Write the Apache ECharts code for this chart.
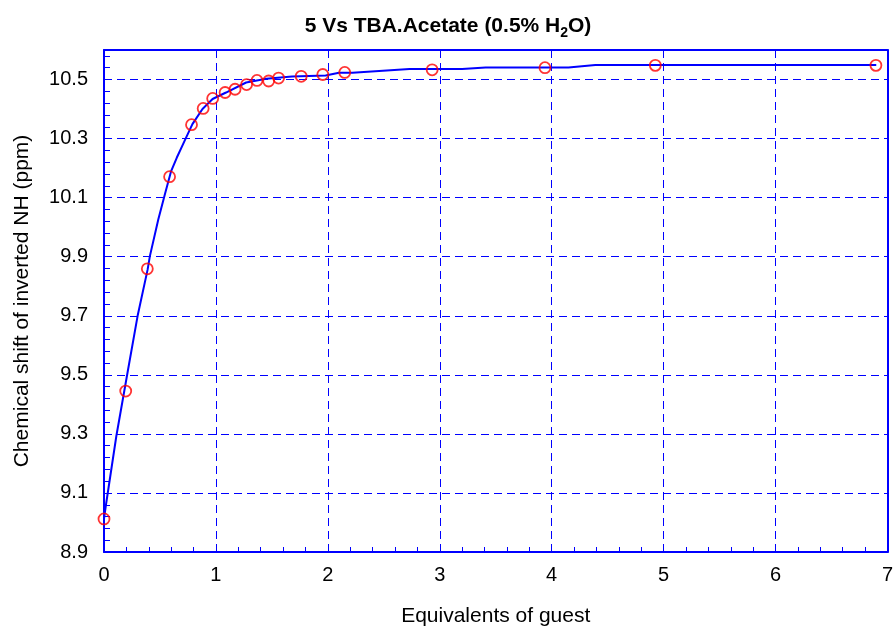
<!DOCTYPE html>
<html>
<head>
<meta charset="utf-8">
<script src="https://cdn.jsdelivr.net/npm/echarts@6/dist/echarts.min.js"></script>
<style>
  html, body { margin: 0; padding: 0; background: #fff; }
  #chart { width: 896px; height: 632px; }
</style>
</head>
<body>
<div id="chart"></div>
<script>
// Titration of 5 with TBA acetate: measured shifts and the fitted binding curve
const guestEquivalents = [0, 0.194, 0.387, 0.586, 0.782, 0.886, 0.971, 1.082, 1.171, 1.274,
  1.367, 1.471, 1.560, 1.762, 1.955, 2.151, 2.932, 3.940, 4.926, 6.897];
const observedShift = [9.012, 9.445, 9.859, 10.171, 10.347, 10.402, 10.436, 10.456, 10.467, 10.483,
  10.497, 10.495, 10.505, 10.511, 10.517, 10.524, 10.533, 10.540, 10.548, 10.548];

const fitEquivalents = [0, 0.02, 0.11, 0.21, 0.30, 0.39, 0.41, 0.485, 0.55, 0.60,
  0.65, 0.72, 0.79, 0.88, 0.97, 1.09, 1.27, 1.45, 1.68, 1.98,
  2.10, 2.22, 2.73, 3.20, 3.41, 4.15, 4.39, 6.90];
const fitShift = [9.012, 9.066, 9.292, 9.507, 9.699, 9.857, 9.902, 10.026, 10.120, 10.190,
  10.235, 10.292, 10.349, 10.400, 10.434, 10.456, 10.490, 10.503, 10.510, 10.514,
  10.523, 10.523, 10.536, 10.536, 10.541, 10.541, 10.549, 10.549];

const xTicks = { min: 0, max: 7, step: 1 };
const yTicks = { min: 8.9, max: 10.6, step: 0.2, minorStep: 0.04 };

const BLUE = '#0000ff';
const FONT = "'Liberation Sans', Arial, sans-serif";

const chart = echarts.init(document.getElementById('chart'), null, { renderer: 'canvas' });

const dashed = { show: true, lineStyle: { color: BLUE, width: 1, type: [8, 5] } };

chart.setOption({
  animation: false,
  backgroundColor: '#ffffff',
  title: {
    text: '5 Vs TBA.Acetate (0.5% H{sub|2}O)',
    left: 'center',
    top: 13,
    padding: 0,
    textStyle: {
      fontFamily: FONT, fontSize: 21, fontWeight: 'bold', color: '#000', lineHeight: 27,
      rich: {
        sub: { fontFamily: FONT, fontSize: 14, fontWeight: 'bold', color: '#000',
               lineHeight: 12, verticalAlign: 'bottom' }
      }
    }
  },
  grid: { left: 104, right: 7, top: 50, bottom: 79 },
  xAxis: [
    {
      type: 'value', position: 'bottom',
      min: xTicks.min, max: xTicks.max, interval: xTicks.step,
      name: 'Equivalents of guest', nameLocation: 'middle', nameGap: 54,
      nameTextStyle: { fontFamily: FONT, fontSize: 21, color: '#000' },
      axisLine: { show: true, onZero: false, lineStyle: { color: BLUE, width: 2 } },
      axisTick: { show: true, inside: true, length: 6, lineStyle: { color: BLUE, width: 1 } },
      minorTick: { show: true, splitNumber: 5, length: 5, lineStyle: { color: BLUE, width: 1 } },
      axisLabel: { fontFamily: FONT, fontSize: 20, color: '#000', margin: 13 },
      splitLine: dashed
    },
    {
      type: 'value', position: 'top',
      min: xTicks.min, max: xTicks.max, interval: xTicks.step,
      axisLine: { show: true, onZero: false, lineStyle: { color: BLUE, width: 2 } },
      axisTick: { show: true, inside: true, length: 6, lineStyle: { color: BLUE, width: 1 } },
      axisLabel: { show: false },
      splitLine: { show: false }
    }
  ],
  yAxis: [
    {
      type: 'value', position: 'left',
      min: yTicks.min, max: yTicks.max, interval: yTicks.step,
      name: 'Chemical shift of inverted NH (ppm)', nameLocation: 'middle', nameGap: 71,
      nameRotate: 90,
      nameTextStyle: { fontFamily: FONT, fontSize: 21, color: '#000' },
      axisLine: { show: true, onZero: false, lineStyle: { color: BLUE, width: 2 } },
      axisTick: { show: false },
      axisLabel: {
        fontFamily: FONT, fontSize: 20, color: '#000', margin: 16,
        formatter: v => (v > yTicks.max - 0.05 ? '' : v.toFixed(1))
      },
      splitLine: dashed
    },
    {
      type: 'value', position: 'right',
      min: yTicks.min, max: yTicks.max,
      axisLine: { show: true, onZero: false, lineStyle: { color: BLUE, width: 2 } },
      axisTick: { show: false }, axisLabel: { show: false }, splitLine: { show: false }
    },
    {
      // fine tick marks along the left edge
      type: 'value', position: 'left',
      min: yTicks.min, max: yTicks.max, interval: yTicks.minorStep,
      axisLine: { show: false },
      axisTick: { show: true, inside: true, length: 6, lineStyle: { color: BLUE, width: 1 } },
      axisLabel: { show: false }, splitLine: { show: false }
    }
  ],
  series: [
    {
      name: 'fit', type: 'line', xAxisIndex: 0, yAxisIndex: 0,
      data: fitEquivalents.map((x, i) => [x, fitShift[i]]),
      showSymbol: false, smooth: false,
      lineStyle: { color: BLUE, width: 2 },
      z: 3
    },
    {
      name: 'observed', type: 'scatter', xAxisIndex: 0, yAxisIndex: 0,
      data: guestEquivalents.map((x, i) => [x, observedShift[i]]),
      symbol: 'circle', symbolSize: 11,
      itemStyle: { color: 'rgba(255,255,255,0)', borderColor: '#ff0000', borderWidth: 1.8 },
      z: 4
    }
  ]
});
</script>
</body>
</html>
